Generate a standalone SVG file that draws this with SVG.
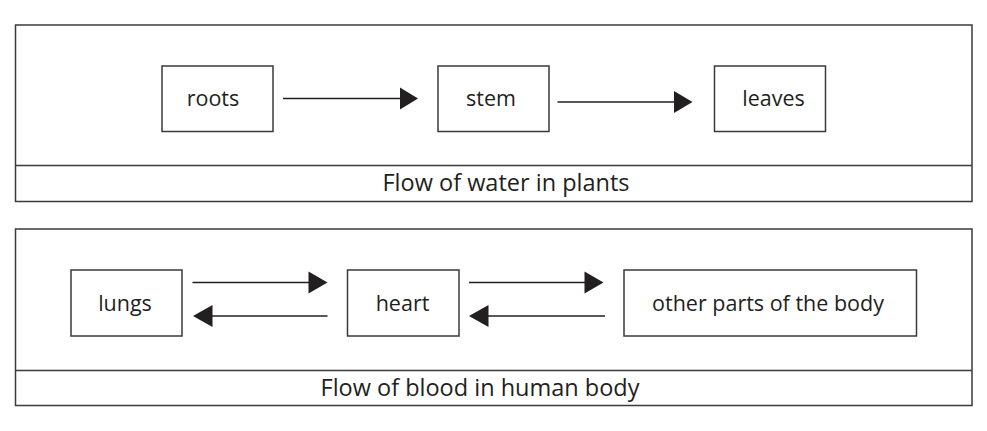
<svg xmlns="http://www.w3.org/2000/svg" width="987" height="431" viewBox="0 0 987 431">
<style>
.frame{fill:none;stroke:#3a3a3a;stroke-width:1.5}
.node{fill:#fff;stroke:#3a3a3a;stroke-width:1.5}
.lbl{font-family:"Open Sans","Liberation Sans",sans-serif;font-size:21.5px;fill:#231f20;text-anchor:middle}
.cap{font-size:23.5px}
.conn{stroke:#231f20;stroke-width:1.3;fill:none}
.head{fill:#231f20}
</style>
<rect width="987" height="431" fill="#fff"/>
<g id="panel-plants">
<rect class="frame" x="15.5" y="25" width="956.5" height="176.5"/>
<line class="frame" x1="15.5" y1="165.5" x2="972" y2="165.5"/>
<text class="lbl cap" x="506" y="190.5">Flow of water in plants</text>
</g>
<g id="panel-blood">
<rect class="frame" x="15.5" y="229" width="956.5" height="176.5"/>
<line class="frame" x1="15.5" y1="370.5" x2="972" y2="370.5"/>
<text class="lbl cap" x="480" y="395.5">Flow of blood in human body</text>
</g>
<g id="roots"><rect class="node" x="162" y="66" width="111" height="65.5"/><text class="lbl" x="213" y="106">roots</text></g>
<g id="stem"><rect class="node" x="438" y="66" width="111" height="65.5"/><text class="lbl" x="491" y="106">stem</text></g>
<g id="leaves"><rect class="node" x="714.5" y="66" width="111" height="65.5"/><text class="lbl" x="773.5" y="106">leaves</text></g>
<g id="lungs"><rect class="node" x="71" y="270" width="111" height="66"/><text class="lbl" x="125" y="311">lungs</text></g>
<g id="heart"><rect class="node" x="347.5" y="270" width="111.5" height="66"/><text class="lbl" x="402.5" y="311">heart</text></g>
<g id="other"><rect class="node" x="624" y="270" width="292.5" height="66"/><text class="lbl" x="768" y="311">other parts of the body</text></g>
<g id="connectors">
<line class="conn" x1="283" y1="98.5" x2="402" y2="98.5"/><polygon class="head" points="400,87.5 418,98.5 400,109.5"/>
<line class="conn" x1="557.5" y1="102" x2="676" y2="102"/><polygon class="head" points="674,91 692.5,102 674,113"/>
<line class="conn" x1="192.5" y1="282.5" x2="310" y2="282.5"/><polygon class="head" points="308.5,271.5 327.5,282.5 308.5,293.5"/>
<line class="conn" x1="327.5" y1="316" x2="211" y2="316"/><polygon class="head" points="212.5,305 193,316 212.5,327"/>
<line class="conn" x1="469" y1="282.5" x2="586" y2="282.5"/><polygon class="head" points="584.5,271.5 603.5,282.5 584.5,293.5"/>
<line class="conn" x1="605" y1="316" x2="487" y2="316"/><polygon class="head" points="488.5,305 469,316 488.5,327"/>
</g>
</svg>
